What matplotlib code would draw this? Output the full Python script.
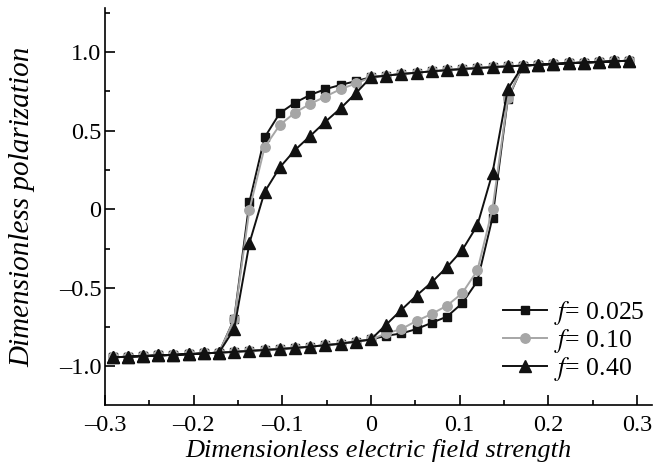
import numpy as np
import matplotlib
matplotlib.use("Agg")
import matplotlib.pyplot as plt
from matplotlib.ticker import MultipleLocator, FixedLocator, FixedFormatter

plt.rcParams['font.family'] = ['Liberation Serif', 'DejaVu Serif']
plt.rcParams['mathtext.fontset'] = 'stix'

# field samples (dimensionless), ascending
field = [-0.2914, -0.2743, -0.2571, -0.2400, -0.2229, -0.2057, -0.1886, -0.1714,
         -0.1543, -0.1371, -0.1200, -0.1029, -0.0857, -0.0686, -0.0514, -0.0343,
         -0.0171, 0.0, 0.0171, 0.0343, 0.0514, 0.0686, 0.0857, 0.1029, 0.1200,
         0.1371, 0.1543, 0.1714, 0.1886, 0.2057, 0.2229, 0.2400, 0.2571, 0.2743,
         0.2914]

# saturated parts shared by all curves
# upper branch for field 0 .. 0.2914
upper_sat = [0.840, 0.850, 0.860, 0.869, 0.877, 0.885, 0.892, 0.898, 0.904,
             0.909, 0.914, 0.919, 0.924, 0.929, 0.933, 0.937, 0.941, 0.945]
# lower branch for field -0.2914 .. 0
lower_sat = [-0.942, -0.938, -0.934, -0.930, -0.926, -0.922, -0.917, -0.912,
             -0.907, -0.901, -0.895, -0.889, -0.882, -0.874, -0.865, -0.855,
             -0.842, -0.828]

# switching parts: decreasing field, values at -0.1543 .. -0.0171
down_025 = [-0.698, 0.047, 0.457, 0.611, 0.678, 0.727, 0.764, 0.791, 0.815]
down_010 = [-0.700, -0.002, 0.394, 0.536, 0.615, 0.670, 0.717, 0.764, 0.800]
down_040 = [-0.761, -0.215, 0.110, 0.266, 0.377, 0.466, 0.557, 0.642, 0.738]
# increasing field, values at 0.0171 .. 0.1543
up_025 = [-0.805, -0.790, -0.762, -0.722, -0.683, -0.598, -0.457, -0.053, 0.700]
up_010 = [-0.790, -0.762, -0.710, -0.666, -0.613, -0.534, -0.389, 0.004, 0.706]
up_040 = [-0.734, -0.640, -0.549, -0.464, -0.368, -0.260, -0.102, 0.232, 0.764]

labels = ["$f$= 0.025", "$f$= 0.10", "$f$= 0.40"]
xtick_vals = [-0.3, -0.2, -0.1, 0, 0.1, 0.2, 0.3]
xtick_text = ["\u20130.3", "\u20130.2", "\u20130.1", "0", "0.1", "0.2", "0.3"]
ytick_vals = [-1.0, -0.5, 0, 0.5, 1.0]
ytick_text = ["\u20131.0", "\u20130.5", "0", "0.5", "1.0"]


def loop(down, up):
    # descending branch (right to left) followed by ascending branch
    desc = lower_sat[:8] + down + upper_sat
    asc = lower_sat + up + upper_sat[10:]
    x = list(field[::-1]) + list(field)
    y = desc[::-1] + asc
    return x, y


fig = plt.figure(figsize=(6.69, 4.72), dpi=100)
ax = fig.add_axes([0.157, 0.142, 0.8176, 0.841])

styles = [
    dict(color='#111111', marker='s', ms=6.2, mfc='#111111', mec='#111111'),
    dict(color='#a6a6a6', marker='o', ms=6.8, mfc='#a6a6a6', mec='#a6a6a6'),
    dict(color='#111111', marker='^', ms=8.5, mfc='#111111', mec='#111111'),
]
for (d, u), lab, st in zip([(down_025, up_025), (down_010, up_010), (down_040, up_040)],
                           labels, styles):
    x, y = loop(d, u)
    ax.plot(x, y, lw=1.4, label=lab, **st)

ax.set_xlim(-0.3, 0.317)
ax.set_ylim(-1.245, 1.28)
ax.spines['top'].set_visible(False)
ax.spines['right'].set_visible(False)
for s in ('left', 'bottom'):
    ax.spines[s].set_linewidth(1.2)

ax.xaxis.set_major_locator(FixedLocator(xtick_vals))
ax.xaxis.set_major_formatter(FixedFormatter(xtick_text))
ax.yaxis.set_major_locator(FixedLocator(ytick_vals))
ax.yaxis.set_major_formatter(FixedFormatter(ytick_text))
ax.xaxis.set_minor_locator(MultipleLocator(0.05))
ax.yaxis.set_minor_locator(MultipleLocator(0.25))
ax.tick_params(which='major', direction='in', length=7, width=1.2, labelsize=17.5)
ax.tick_params(axis='x', which='major', pad=7)
ax.tick_params(axis='y', which='major', pad=2.5)
ax.tick_params(which='minor', direction='in', length=3.5, width=1.2)

ax.set_xlabel("Dimensionless electric field strength", fontsize=19, style='italic')
ax.set_ylabel("Dimensionless polarization", fontsize=21, style='italic')
ax.xaxis.set_label_coords(0.5, -0.085)
ax.yaxis.set_label_coords(-0.128, 0.5)

ax.legend(loc='upper left', bbox_to_anchor=(0.7276, 0.266), frameon=False, fontsize=18.5,
          handlelength=1.72, handletextpad=0.25, labelspacing=0.0, borderpad=0,
          borderaxespad=0)

fig.savefig("out.png", dpi=100)
